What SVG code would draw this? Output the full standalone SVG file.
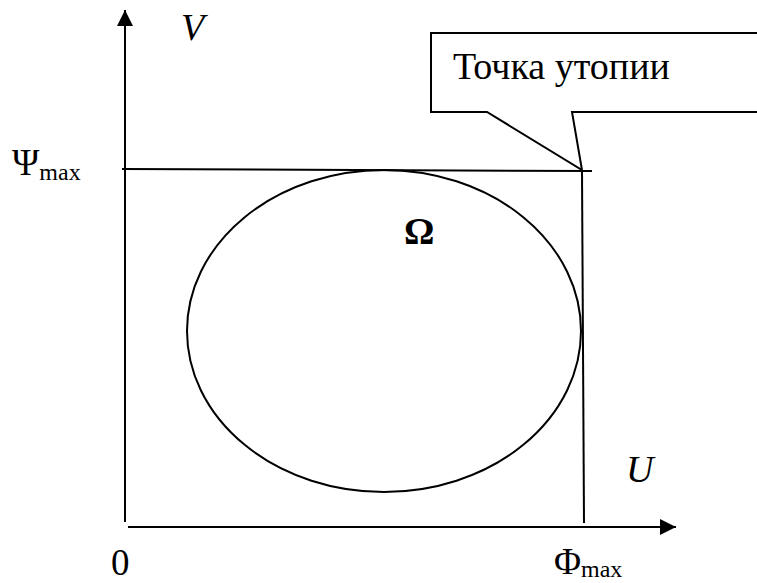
<svg xmlns="http://www.w3.org/2000/svg" width="757" height="583" viewBox="0 0 757 583">
<style>
.ln{stroke:#000;stroke-width:2;fill:none}
</style>
<defs>
<marker id="ah" markerWidth="16" markerHeight="16" refX="16" refY="8" orient="auto" markerUnits="userSpaceOnUse">
<path d="M0,0 L16,8 L0,16 z" fill="#000"/>
</marker>
</defs>
<rect width="757" height="583" fill="#fff"/>
<g id="connectors">
<line class="ln" x1="125" y1="522" x2="125" y2="10" marker-end="url(#ah)"/>
<line class="ln" x1="128" y1="527" x2="676" y2="527" marker-end="url(#ah)"/>
<line class="ln" x1="122" y1="169" x2="592" y2="171"/>
<line class="ln" x1="582" y1="171" x2="584" y2="523"/>
</g>
<g id="region">
<ellipse class="ln" cx="384" cy="331" rx="197" ry="161"/>
<text x="404" y="244" font-size="38" font-weight="bold" font-family="Liberation Serif">Ω</text>
</g>
<g id="callout">
<path class="ln" d="M760,33 L431,33 L431,112 L487,112 L582,170 L572,112 L760,112"/>
<text x="453" y="79" font-size="38" font-family="Liberation Serif">Точка утопии</text>
</g>
<g id="labels">
<text x="181" y="40" font-size="38" font-style="italic" font-family="Liberation Serif">V</text>
<text x="626" y="482" font-size="38" font-style="italic" font-family="Liberation Serif">U</text>
<text x="12" y="175" font-size="37" font-family="Liberation Serif">Ψ<tspan font-size="24" dy="5">max</tspan></text>
<text x="554" y="574" font-size="37" font-family="Liberation Serif">Φ<tspan font-size="24" dy="3">max</tspan></text>
<text x="111" y="575" font-size="37" font-family="Liberation Serif">0</text>
</g>
</svg>
